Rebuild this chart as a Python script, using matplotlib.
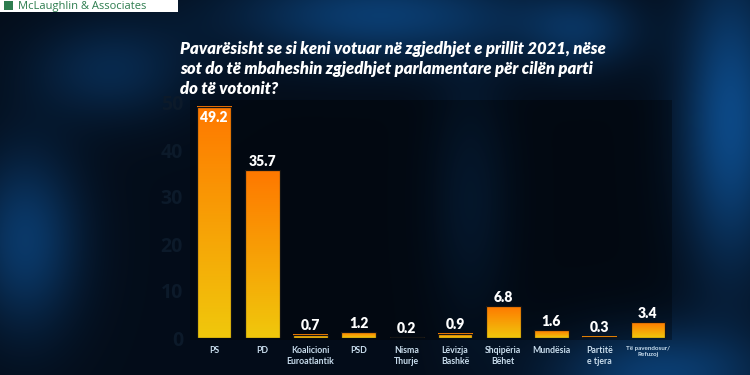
import matplotlib.pyplot as plt
import numpy as np
from matplotlib.colors import LinearSegmentedColormap

# Data
parties = ['PS', 'PD', 'Koalicioni\nEuroatlantik', 'PSD', 'Nisma\nThurje',
           'Lëvizja\nBashkë', 'Shqipëria\nBëhet', 'Mundësia', 'Partitë\ne tjera',
           'Të pavendosur/\nRefuzoj']
votes = [49.2, 35.7, 0.7, 1.2, 0.2, 0.9, 6.8, 1.6, 0.3, 3.4]
yticks = [0, 10, 20, 30, 40, 50]

title = ("Pavarësisht se si keni votuar në zgjedhjet e prillit 2021, nëse\n"
         "sot do të mbaheshin zgjedhjet parlamentare për cilën parti\n"
         "do të votonit?")

W, H = 750, 375
fig = plt.figure(figsize=(7.5, 3.75), dpi=100)

# Background: dark navy with blue glows
bg = fig.add_axes([0, 0, 1, 1])
yy, xx = np.mgrid[0:H, 0:W]
base = np.array([0.015, 0.05, 0.10])
img = np.ones((H, W, 3)) * base
glows = [  # (cx, cy, sx, sy, strength)
    (380, 15, 150, 45, 0.6),
    (730, 120, 50, 150, 0.75),
    (660, 375, 110, 50, 0.6),
    (25, 240, 55, 90, 0.55),
    (110, 70, 80, 50, 0.35),
    (580, 30, 60, 40, 0.4),
    (470, 200, 40, 120, 0.25),
]
glow_col = np.array([0.06, 0.36, 0.66]) - base
for cx, cy, sx, sy, s in glows:
    g = s * np.exp(-(((xx - cx) / sx) ** 2 + ((yy - cy) / sy) ** 2))
    img += g[..., None] * glow_col
img = np.clip(img, 0, 1)
bg.imshow(img, extent=[0, W, H, 0], aspect='auto')
bg.set_xlim(0, W)
bg.set_ylim(H, 0)
bg.axis('off')

# darker plot panel
bg.add_patch(plt.Rectangle((190, 100), 482, 240, color='black', alpha=0.3, lw=0))

# logo box
bg.add_patch(plt.Rectangle((0, 0), 178, 12, color='white', lw=0))
bg.add_patch(plt.Rectangle((4, 1), 9, 9, color='#2e7d4f', lw=0))
bg.text(18, 6, 'McLaughlin & Associates', color='#2e7d4f', fontsize=8,
        va='center', ha='left', family='Open Sans')

# title
bg.text(180, 41, title, color='white', fontsize=12, fontweight='heavy',
        style='italic', family='Lato', va='top', ha='left', linespacing=1.3)

# Chart axes
ax = fig.add_axes([190 / W, 37 / H, 482 / W, 235 / H])
ax.set_facecolor('none')
ax.set_xlim(-0.5, len(parties) - 0.5)
ax.set_ylim(0, 50)

cmap = LinearSegmentedColormap.from_list('bar', ['#f0c80c', '#ff7800'])
grad = np.linspace(0, 1, 256).reshape(-1, 1)
bw = 0.72
x = np.arange(len(parties))
bars = ax.bar(x, votes, width=bw, color='none', edgecolor='#151515', lw=0.9, zorder=3)
for b, v in zip(bars, votes):
    x0 = b.get_x()
    ax.imshow(grad, extent=[x0, x0 + bw, 0, v], origin='lower', cmap=cmap,
              aspect='auto', zorder=2, interpolation='bilinear')
    if v > 45:
        ax.text(x0 + bw / 2, v - 0.8, f'{v}', ha='center', va='top',
                color='white', fontsize=10, fontweight='heavy', family='Lato', zorder=4)
    else:
        ax.text(x0 + bw / 2, v + 0.5, f'{v}', ha='center', va='bottom',
                color='white', fontsize=10, fontweight='heavy', family='Lato', zorder=4)

ax.set_xticks(x)
ax.set_xticklabels(parties, fontsize=6.3, color='#c8dcec', family='Lato',
                   fontweight='bold')
ax.get_xticklabels()[-1].set_fontsize(4.5)
ax.set_yticks(yticks)
ax.set_yticklabels([str(t) for t in yticks], fontsize=14, color='#0c1a2a',
                   fontweight='bold', family='Open Sans')
ax.tick_params(length=0, pad=5)
ax.tick_params(axis='x', pad=6)
for s in ax.spines.values():
    s.set_visible(False)

fig.savefig('out.png', dpi=100)
